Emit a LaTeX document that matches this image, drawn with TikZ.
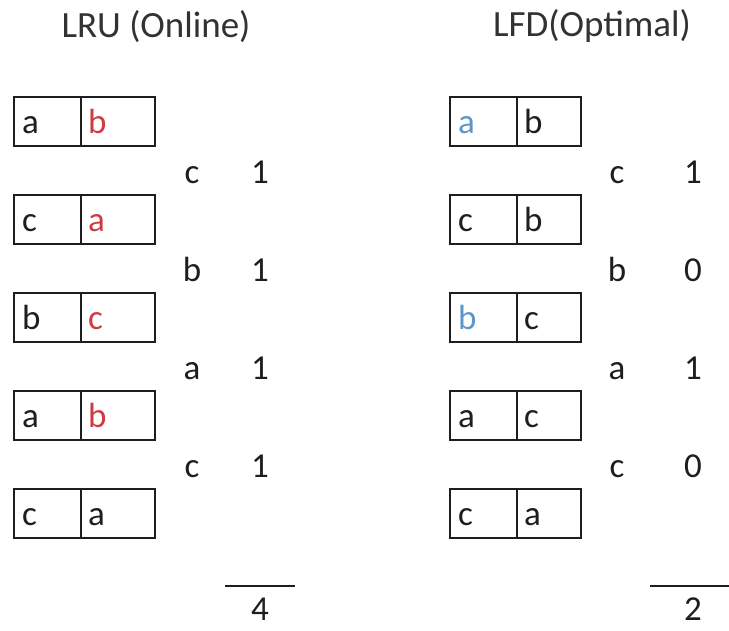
\documentclass[tikz,border=0pt]{standalone}
\usepackage{fontspec}
\setmainfont{Carlito}
\usetikzlibrary{calc}

\definecolor{ink}{RGB}{30,30,30}
\definecolor{headink}{RGB}{50,50,50}
\definecolor{evict}{RGB}{205,60,65}
\definecolor{keep}{RGB}{95,150,200}

\tikzset{
  cell/.style={draw=ink, line width=1.5pt, minimum height=49pt, inner sep=0pt,
               outer sep=0pt, anchor=north west},
  item/.style={anchor=base west, inner sep=0pt, font=\fontsize{35}{40}\selectfont},
  req/.style={anchor=base, inner sep=0pt, text=ink, font=\fontsize{35}{40}\selectfont},
  head/.style={anchor=base, inner sep=0pt, text=headink, font=\fontsize{37}{42}\selectfont},
  sumline/.style={draw=ink, line width=1.5pt}
}

% #1 name, #2 x, #3 y (top), #4 left width, #5 right width,
% #6 colour of left page, #7 left page, #8 colour of right page, #9 right page
\newcommand\cachestate[9]{%
  \node[cell, minimum width=#4pt] (#1L) at (#2,#3) {};
  \node[cell, minimum width=#5pt] (#1R) at (#1L.north east) {};
  \node[item, text=#6] (#1a) at ($(#1L.south west)+(8,-13)$) {#7};
  \node[item, text=#8] (#1b) at ($(#1R.south west)+(7,-13)$) {#9};
}

\begin{document}
\begin{tikzpicture}[x=1pt, y=-1pt]
  \useasboundingbox (0,0) rectangle (729,630);

  % headings
  \node[head] (lruhead) at (156,37) {LRU (Online)};
  \node[head] (lfdhead) at (592,36) {LFD(Optimal)};

  % LRU column
  \cachestate{lruA}{14}{97}{67}{74}{ink}{a}{evict}{b}
  \cachestate{lruB}{14}{195}{67}{74}{ink}{c}{evict}{a}
  \cachestate{lruC}{14}{293}{67}{74}{ink}{b}{evict}{c}
  \cachestate{lruD}{14}{391}{67}{74}{ink}{a}{evict}{b}
  \cachestate{lruE}{14}{489}{67}{74}{ink}{c}{ink}{a}

  % LFD column
  \cachestate{lfdA}{450}{97}{67}{64}{keep}{a}{ink}{b}
  \cachestate{lfdB}{450}{195}{67}{64}{ink}{c}{ink}{b}
  \cachestate{lfdC}{450}{293}{67}{64}{keep}{b}{ink}{c}
  \cachestate{lfdD}{450}{391}{67}{64}{ink}{a}{ink}{c}
  \cachestate{lfdE}{450}{489}{67}{64}{ink}{c}{ink}{a}

  % requests and faults, LRU
  \node[req] (lruq1) at (192,183) {c};  \node[req] (lruf1) at (260,183) {1};
  \node[req] (lruq2) at (192,281) {b};  \node[req] (lruf2) at (260,281) {1};
  \node[req] (lruq3) at (192,379) {a};  \node[req] (lruf3) at (260,379) {1};
  \node[req] (lruq4) at (192,477) {c};  \node[req] (lruf4) at (260,477) {1};

  % requests and faults, LFD
  \node[req] (lfdq1) at (617,183) {c};  \node[req] (lfdf1) at (693,183) {1};
  \node[req] (lfdq2) at (617,281) {b};  \node[req] (lfdf2) at (693,281) {0};
  \node[req] (lfdq3) at (617,379) {a};  \node[req] (lfdf3) at (693,379) {1};
  \node[req] (lfdq4) at (617,477) {c};  \node[req] (lfdf4) at (693,477) {0};

  % totals
  \coordinate (lrus1) at (225,586); \coordinate (lrus2) at (295,586);
  \coordinate (lfds1) at (650,586); \coordinate (lfds2) at (729,586);
  \draw[sumline] (lrus1) -- (lrus2);
  \draw[sumline] (lfds1) -- (lfds2);
  \node[req] (lrutotal) at (260,620) {4};
  \node[req] (lfdtotal) at (693,620) {2};
\end{tikzpicture}
\end{document}
